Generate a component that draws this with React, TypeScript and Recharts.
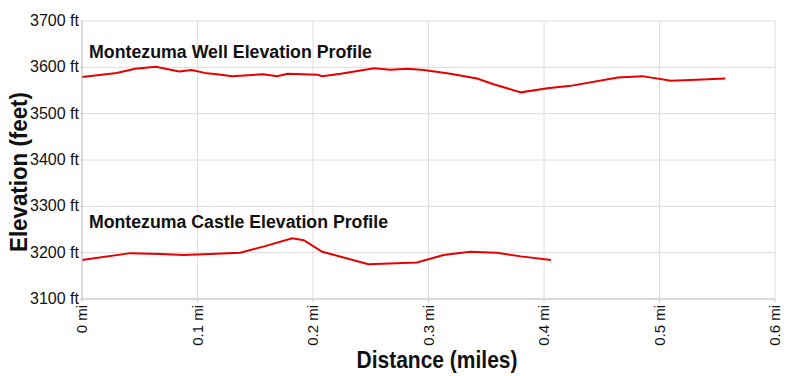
import React from "react";
import { LineChart, Line, XAxis, YAxis, CartesianGrid, Label } from "recharts";

const wellMiles = [0, 0.03, 0.046, 0.064, 0.084, 0.095, 0.108, 0.117, 0.13, 0.157, 0.169, 0.178, 0.204, 0.208, 0.224, 0.253, 0.267, 0.282, 0.296, 0.319, 0.342, 0.357, 0.38, 0.403, 0.423, 0.464, 0.485, 0.51, 0.532, 0.557];
const wellFeet = [3579, 3588, 3597, 3601, 3591, 3594, 3587, 3585, 3581, 3585, 3581, 3586, 3584, 3581, 3586, 3598, 3595, 3597, 3594, 3586, 3576, 3563, 3546, 3555, 3560, 3578, 3581, 3571, 3573, 3576];

const castleMiles = [0, 0.042, 0.068, 0.088, 0.111, 0.137, 0.157, 0.182, 0.192, 0.208, 0.248, 0.29, 0.313, 0.336, 0.359, 0.38, 0.406];
const castleFeet = [3184, 3199, 3197, 3195, 3197, 3200, 3213, 3231, 3227, 3202, 3175, 3179, 3195, 3202, 3200, 3192, 3184];

const xTicks = [0, 0.1, 0.2, 0.3, 0.4, 0.5, 0.6];
const yTicks = [3100, 3200, 3300, 3400, 3500, 3600, 3700];

const wellData = wellMiles.map((d, i) => ({ d, ft: wellFeet[i] }));
const castleData = castleMiles.map((d, i) => ({ d, ft: castleFeet[i] }));

const font = "'Liberation Sans', Arial, sans-serif";

const XTick = ({ x, y, payload }: any) => (
  <text
    x={x + 5}
    y={y + 1}
    transform={`rotate(-90 ${x + 5} ${y + 1})`}
    textAnchor="end"
    fontSize={15}
    fill="#111"
    fontFamily={font}
  >
    {`${payload.value} mi`}
  </text>
);

const YTick = ({ y, payload }: any) => (
  <text x={79} y={y + 5} textAnchor="end" fontSize={16} fill="#111" fontFamily={font}>
    {`${payload.value} ft`}
  </text>
);

// axis titles look condensed in the original, so squeeze them with textLength
const XTitle = () => (
  <text x={437} y={368} textAnchor="middle" fontFamily={font} fontWeight="bold" fontSize={24}
    fill="#111" textLength={161} lengthAdjust="spacingAndGlyphs">
    Distance (miles)
  </text>
);

const YTitle = () => (
  <text x={27} y={172} transform="rotate(-90 27 172)" textAnchor="middle" fontFamily={font}
    fontWeight="bold" fontSize={23} fill="#111" textLength={160} lengthAdjust="spacingAndGlyphs">
    Elevation (feet)
  </text>
);

export default function App() {
  return (
    <div style={{ position: "absolute", left: 0, top: 0, width: 800, height: 376, background: "#fff" }}>
      <LineChart width={800} height={376} margin={{ top: 21, right: 25, left: 0, bottom: 0 }}>
        <CartesianGrid stroke="#dcdcdc" />
        <XAxis
          type="number"
          dataKey="d"
          domain={[0, 0.6]}
          ticks={xTicks}
          height={77}
          stroke="#c8c8c8"
          tickSize={3}
          tick={<XTick />}
          interval={0}
        >
          <Label content={<XTitle />} />
        </XAxis>
        <YAxis
          type="number"
          domain={[3100, 3700]}
          ticks={yTicks}
          width={82}
          stroke="#c8c8c8"
          tickSize={2}
          tick={<YTick />}
          interval={0}
        >
          <Label content={<YTitle />} />
        </YAxis>
        <Line data={wellData} dataKey="ft" type="linear" stroke="#e60000" strokeWidth={2} dot={false} isAnimationActive={false} />
        <Line data={castleData} dataKey="ft" type="linear" stroke="#e60000" strokeWidth={2} dot={false} isAnimationActive={false} />
      </LineChart>
      <svg width={800} height={376} style={{ position: "absolute", left: 0, top: 0, pointerEvents: "none" }}>
        <text x={89} y={58} fontFamily={font} fontWeight="bold" fontSize={18} fill="#111"
          textLength={283} lengthAdjust="spacingAndGlyphs">
          Montezuma Well Elevation Profile
        </text>
        <text x={89} y={228} fontFamily={font} fontWeight="bold" fontSize={18} fill="#111"
          textLength={299} lengthAdjust="spacingAndGlyphs">
          Montezuma Castle Elevation Profile
        </text>
      </svg>
    </div>
  );
}
